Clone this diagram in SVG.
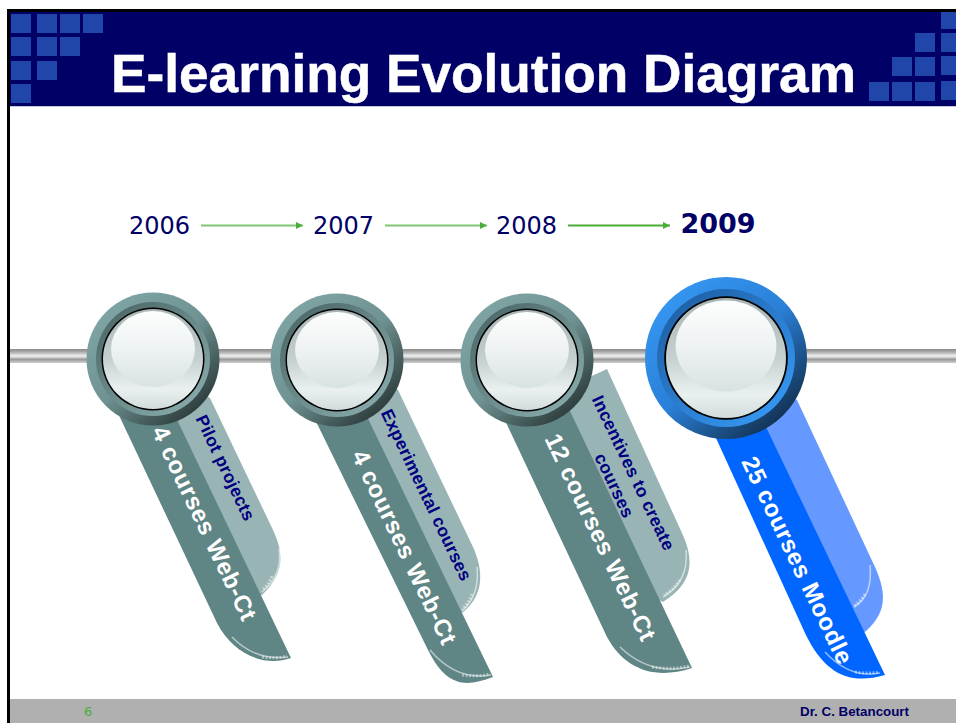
<svg xmlns="http://www.w3.org/2000/svg" xmlns:xlink="http://www.w3.org/1999/xlink" width="956" height="723" viewBox="0 0 956 723">
<style>
.sq{fill:#2146aa}
.ft{font-family:"Liberation Sans",Arial,sans-serif;font-weight:bold}
.yr{font-family:"DejaVu Sans",Verdana,sans-serif;fill:#000066;font-size:24px}
.main{font-family:"Liberation Sans",Arial,sans-serif;font-weight:bold;fill:#fff;font-size:24px;letter-spacing:.6px;word-spacing:.5px;text-anchor:middle}
.sub{font-family:"Liberation Sans",Arial,sans-serif;font-weight:bold;fill:#000080;font-size:17.500px;letter-spacing:.3px;text-anchor:middle}
.dk{fill:#5f8585}.lt{fill:#98b4b4}
.dkb{fill:#0066ff}.ltb{fill:#6699ff}
.hl{fill:none;stroke:#fff;stroke-opacity:.55;stroke-width:1.500}
.hd{fill:none;stroke:#fff;stroke-opacity:.45;stroke-width:3;stroke-dasharray:2 1.500}
.arr{fill:none;stroke-width:2}
</style>
<defs>
<linearGradient id="rail" x1="0" y1="0" x2="0" y2="1"><stop offset="0" stop-color="#8a8a8a"/><stop offset=".2" stop-color="#a8a8a8"/><stop offset=".5" stop-color="#f2f2f2"/><stop offset=".75" stop-color="#9a9a9a"/><stop offset="1" stop-color="#d0d0d0"/></linearGradient>
<linearGradient id="o1" x1=".15" y1=".1" x2=".85" y2=".9"><stop offset="0" stop-color="#7fa4a4"/><stop offset=".5" stop-color="#6f9292"/><stop offset="1" stop-color="#2c3a3a"/></linearGradient>
<linearGradient id="i1" x1=".15" y1=".1" x2=".85" y2=".9"><stop offset="0" stop-color="#4f6b6b"/><stop offset="1" stop-color="#86a8a8"/></linearGradient>
<linearGradient id="o2" x1=".15" y1=".1" x2=".85" y2=".9"><stop offset="0" stop-color="#3596f0"/><stop offset=".5" stop-color="#2a7fd8"/><stop offset="1" stop-color="#12304f"/></linearGradient>
<linearGradient id="i2" x1=".15" y1=".1" x2=".85" y2=".9"><stop offset="0" stop-color="#1f62a8"/><stop offset="1" stop-color="#3596f0"/></linearGradient>
<linearGradient id="disc" x1="0" y1="0" x2="0" y2="1"><stop offset="0" stop-color="#a9b5b5"/><stop offset=".5" stop-color="#c6d0d0"/><stop offset=".8" stop-color="#eaf0f0"/><stop offset="1" stop-color="#d2dcdc"/></linearGradient>
<linearGradient id="glow" x1="0" y1="0" x2="0" y2="1"><stop offset="0" stop-color="#fdfefe"/><stop offset=".5" stop-color="#eef2f2"/><stop offset="1" stop-color="#d8e2e2"/></linearGradient>
<g id="face">
<circle r="51.500" fill="#000"/>
<circle r="50" fill="url(#disc)"/>
<ellipse cy="-10" rx="42" ry="38" fill="url(#glow)"/>
</g>
<marker id="ah" markerUnits="userSpaceOnUse" markerWidth="8" markerHeight="8" refX="7" refY="4" orient="auto"><path d="M0 0.500L7 4L0 7.500Z" fill="#4aad3a"/></marker>
</defs>
<rect width="956" height="723" fill="#fff"/>
<g id="frame">
<rect x="7" y="9" width="949" height="3" fill="#000"/>
<rect x="7" y="9" width="3" height="714" fill="#000"/>
<rect x="10" y="12" width="946" height="94" fill="#000066"/>
<rect x="10" y="106" width="946" height="1" fill="#c8c8d8"/>
<rect x="10" y="699" width="946" height="24" fill="#b0b0b0"/>
</g>
<g id="pattern">
<rect class="sq" x="11" y="14" width="20" height="19"/><rect class="sq" x="37" y="14" width="20" height="19"/><rect class="sq" x="60" y="14" width="20" height="19"/><rect class="sq" x="83" y="14" width="20" height="19"/>
<rect class="sq" x="11" y="37" width="20" height="19"/><rect class="sq" x="37" y="37" width="20" height="19"/><rect class="sq" x="60" y="37" width="20" height="19"/>
<rect class="sq" x="11" y="61" width="20" height="19"/><rect class="sq" x="37" y="61" width="20" height="19"/>
<rect class="sq" x="11" y="84" width="20" height="19"/>
<rect class="sq" x="941" y="12" width="15" height="17"/>
<rect class="sq" x="915" y="33" width="20" height="19"/><rect class="sq" x="941" y="33" width="15" height="19"/>
<rect class="sq" x="892" y="57" width="20" height="19"/><rect class="sq" x="915" y="57" width="20" height="19"/><rect class="sq" x="941" y="56" width="15" height="19"/>
<rect class="sq" x="869" y="82" width="20" height="19"/><rect class="sq" x="892" y="82" width="20" height="19"/><rect class="sq" x="915" y="82" width="20" height="19"/><rect class="sq" x="941" y="81" width="15" height="19"/>
</g>
<text id="title" class="ft" x="111" y="92" font-size="54" fill="#fff" stroke="#fff" stroke-width=".5" textLength="745" lengthAdjust="spacingAndGlyphs">E-learning Evolution Diagram</text>
<rect id="rail-bar" x="10" y="349" width="946" height="14" fill="url(#rail)"/>
<g id="connectors">
<path class="arr" d="M201 225.500H303" stroke="#82c674" marker-end="url(#ah)"/>
<path class="arr" d="M385 225.500H487" stroke="#82c674" marker-end="url(#ah)"/>
<path class="arr" d="M568 225.500H670" stroke="#4aad3a" marker-end="url(#ah)"/>
</g>
<g id="year-2006"><text class="yr" x="129" y="234">2006</text></g>
<g id="year-2007"><text class="yr" x="313" y="234">2007</text></g>
<g id="year-2008"><text class="yr" x="496" y="234">2008</text></g>
<g id="year-2009"><text class="yr" x="680.500" y="233" font-weight="bold" style="font-size:27px">2009</text></g>

<g id="node-2006">
<path class="lt" d="M150 430L180 380L210 398L273 530C283 552 286 572 262 595L240 600Z"/>
<path class="hl" d="M279 549Q283 575 262 592"/>
<path class="hd" d="M272 576Q268 586 262 590"/>
<path class="dk" d="M108 392L170 405L291 658C262 668 232 652 217 623Z"/>
<path class="hl" d="M232 637Q255 661 288 657"/>
<path class="hd" d="M262 657Q275 659 287 656"/>
<circle cx="153" cy="359" r="66.500" fill="url(#o1)"/>
<circle cx="153" cy="359" r="57" fill="url(#i1)"/>
<use xlink:href="#face" href="#face" transform="translate(153 359)"/>
<text class="main" transform="translate(197 527) rotate(64.500)">4 courses Web-Ct</text>
<text class="sub" transform="translate(220 470.500) rotate(64.500)">Pilot projects</text>
</g>

<g id="node-2007">
<path class="lt" d="M340 430L370 370L398 390L473 547C484 572 484 596 462 613L440 610Z"/>
<path class="hl" d="M477 567Q480 595 462 611"/>
<path class="hd" d="M472 594Q468 604 462 609"/>
<path class="dk" d="M303 395L358 398L493 677C464 688 446 686 428 650Z"/>
<path class="hl" d="M430 650Q456 681 491 675"/>
<path class="hd" d="M462 675Q477 677 490 674"/>
<circle cx="337" cy="360" r="66.500" fill="url(#o1)"/>
<circle cx="337" cy="360" r="57" fill="url(#i1)"/>
<use xlink:href="#face" href="#face" transform="translate(337 360)"/>
<text class="main" transform="translate(397 551) rotate(64.500)">4 courses Web-Ct</text>
<text class="sub" transform="translate(421 497.500) rotate(64.500)">Experimental courses</text>
</g>

<g id="node-2008">
<path class="lt" d="M550 420L583 380L607 369L682 533C693 557 696 582 663 602L640 590Z"/>
<path class="hl" d="M686 550Q689 582 663 597"/>
<path class="hd" d="M680 580Q673 590 664 595"/>
<path class="dk" d="M494 397L560 390L692 668C655 680 625 670 607 637Z"/>
<path class="hl" d="M620 647Q650 676 690 667"/>
<path class="hd" d="M652 667Q672 670 689 666"/>
<circle cx="527" cy="360" r="66.500" fill="url(#o1)"/>
<circle cx="527" cy="360" r="57" fill="url(#i1)"/>
<use xlink:href="#face" href="#face" transform="translate(527 360)"/>
<text class="main" transform="translate(593 541) rotate(64.500)">12 courses Web-Ct</text>
<text class="sub" transform="translate(628 475.500) rotate(64.500)">Incentives to create</text>
<text class="sub" transform="translate(609 488) rotate(64.500)">courses</text>
</g>

<g id="node-2009">
<path class="ltb" d="M750 420L780 390L797 400L875 567C886 592 888 612 865 632L840 620Z"/>
<path class="hl" d="M870 565Q873 596 854 607"/>
<path class="hd" d="M865 594Q860 602 854 606"/>
<path class="dkb" d="M700 403L752 398L885 675C850 685 825 675 805 633Z"/>
<path class="hl" d="M825 652Q850 679 880 673"/>
<path class="hd" d="M855 672Q868 674 879 672"/>
<circle cx="726" cy="358" r="81" fill="url(#o2)"/>
<circle cx="726" cy="358" r="69" fill="url(#i2)"/>
<use xlink:href="#face" href="#face" transform="translate(726 358) scale(1.200)"/>
<text class="main" transform="translate(790 564) rotate(64.500)">25 courses Moodle</text>
</g>

<g id="footer">
<text x="84" y="716" font-family="'DejaVu Sans',Verdana,sans-serif" font-size="13" fill="#4aad3a">6</text>
<text class="ft" x="800" y="716" font-size="13" fill="#000066" textLength="109" lengthAdjust="spacingAndGlyphs">Dr. C. Betancourt</text>
</g>
</svg>
